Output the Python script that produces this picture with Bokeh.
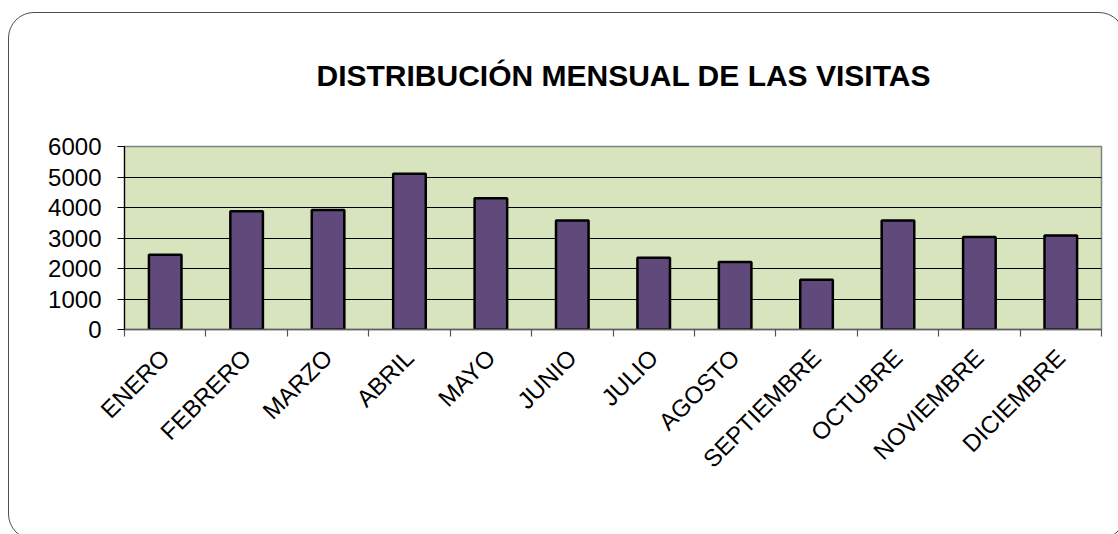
import math
from bokeh.plotting import figure
from bokeh.models import Range1d, FixedTicker, ColumnDataSource, InlineStyleSheet
from bokeh.embed import file_html
from bokeh.resources import INLINE

months = ["ENERO", "FEBRERO", "MARZO", "ABRIL", "MAYO", "JUNIO", "JULIO",
          "AGOSTO", "SEPTIEMBRE", "OCTUBRE", "NOVIEMBRE", "DICIEMBRE"]
visits = [2450, 3880, 3920, 5110, 4300, 3570, 2350, 2210, 1630, 3570, 3030, 3080]
y_ticks = [0, 1000, 2000, 3000, 4000, 5000, 6000]
title_text = "DISTRIBUCIÓN MENSUAL DE LAS VISITAS"

centers = [i + 0.5 for i in range(len(months))]
bounds = [float(i) for i in range(len(months) + 1)]
src = ColumnDataSource(dict(x=centers, top=visits, month=months))

FONT = "Liberation Sans"

p = figure(width=1118, height=534,
           x_range=Range1d(0, len(months)), y_range=Range1d(0, 6000),
           output_backend="svg", toolbar_location=None,
           min_border_left=124, min_border_right=17,
           min_border_top=146, min_border_bottom=205)

p.background_fill_color = "#D7E4BD"
p.border_fill_color = "white"
p.outline_line_color = "#808080"
p.outline_line_width = 1.5

p.vbar(x="x", top="top", width=0.4, source=src,
       fill_color="#604A7B", line_color="black", line_width=2.5)

# grid
p.xgrid.visible = False
p.ygrid.ticker = FixedTicker(ticks=y_ticks[1:-1])
p.ygrid.grid_line_color = "black"
p.ygrid.grid_line_width = 1

# y axis
p.yaxis.ticker = FixedTicker(ticks=y_ticks)
p.yaxis.axis_line_color = "black"
p.yaxis.axis_line_width = 1.2
p.yaxis.major_tick_out = 7
p.yaxis.major_tick_in = 0
p.yaxis.major_tick_line_color = "black"
p.yaxis.minor_tick_line_color = None
p.yaxis.major_label_text_font = FONT
p.yaxis.major_label_text_font_size = "24px"
p.yaxis.major_label_text_color = "black"
p.yaxis.major_label_standoff = 16

# x axis: labels at bar centres, ticks at category bounds
p.xaxis.ticker = FixedTicker(ticks=centers, minor_ticks=bounds)
p.xaxis.major_label_overrides = {c: m for c, m in zip(centers, months)}
p.xaxis.major_label_orientation = math.pi / 4
p.xaxis.major_tick_line_color = None
p.xaxis.major_tick_out = 0
p.xaxis.major_tick_in = 0
p.xaxis.minor_tick_out = 7
p.xaxis.minor_tick_in = 0
p.xaxis.minor_tick_line_color = "#555555"
p.xaxis.minor_tick_line_width = 1.2
p.xaxis.axis_line_color = "#606060"
p.xaxis.axis_line_width = 1.5
p.xaxis.major_label_text_font = FONT
p.xaxis.major_label_text_font_size = "24px"
p.xaxis.major_label_text_color = "black"
p.xaxis.major_label_standoff = 17

# title
p.title.text = title_text
p.title.align = "left"
p.title.offset = 192
p.title.standoff = 110
p.title.text_font = FONT
p.title.text_font_style = "bold"
p.title.text_font_size = "30px"
p.title.text_color = "black"

# rounded outer border of the chart area (drawn with CSS over the canvas)
p.stylesheets = [InlineStyleSheet(css="""
:host { position: relative; overflow: hidden; }
:host::after {
  content: "";
  position: absolute;
  left: 8px; top: 12px;
  width: 1117px; height: 528px;
  box-sizing: border-box;
  border: 1.3px solid #505050;
  border-radius: 26px;
  pointer-events: none;
}
""")]

open("out.html", "w").write(file_html(p, INLINE))
